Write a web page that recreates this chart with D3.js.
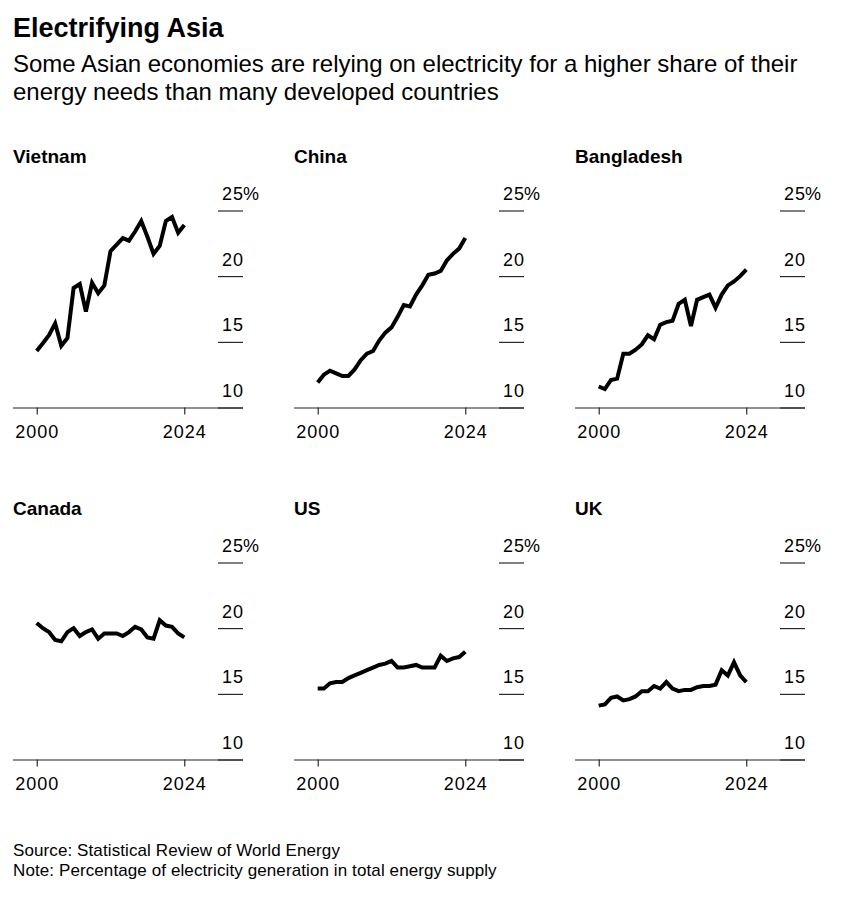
<!DOCTYPE html>
<html>
<head>
<meta charset="utf-8">
<script src="https://cdn.jsdelivr.net/npm/d3@7"></script>
<style>
  body { margin: 0; background: #fff; }
  svg { font-family: "Liberation Sans", Arial, sans-serif; }
  .axis text { font-size: 18px; fill: #000; letter-spacing: 1px; }
  .axis line { stroke: #000; }
</style>
</head>
<body>
<div id="chart"></div>
<script>
// chart data
var years = d3.range(2000, 2025);
var countries = ["Vietnam", "China", "Bangladesh", "Canada", "US", "UK"];
var vietnam = [14.3, 14.9, 15.5, 16.4, 14.7, 15.3, 19.1, 19.4, 17.3, 19.5, 18.7, 19.3, 21.9,
  22.4, 22.9, 22.7, 23.4, 24.2, 23.0, 21.7, 22.3, 24.2, 24.5, 23.3, 23.9];
var china = [11.9, 12.5, 12.8, 12.6, 12.4, 12.4, 12.9, 13.6, 14.1, 14.3, 15.1, 15.7, 16.1,
  16.9, 17.8, 17.7, 18.6, 19.3, 20.1, 20.2, 20.4, 21.2, 21.7, 22.1, 22.9];
var bangladesh = [11.6, 11.4, 12.1, 12.2, 14.1, 14.1, 14.4, 14.8, 15.5, 15.2, 16.3, 16.5, 16.6,
  17.9, 18.2, 16.2, 18.2, 18.4, 18.6, 17.6, 18.6, 19.3, 19.6, 20.0, 20.5];
var canada = [20.4, 20.0, 19.7, 19.1, 19.0, 19.7, 20.0, 19.4, 19.7, 19.9, 19.2, 19.6, 19.6,
  19.6, 19.4, 19.7, 20.1, 19.9, 19.3, 19.2, 20.6, 20.2, 20.1, 19.6, 19.3];
var us = [15.4, 15.4, 15.8, 15.9, 15.9, 16.2, 16.4, 16.6, 16.8, 17.0, 17.2, 17.3, 17.5,
  17.0, 17.0, 17.1, 17.2, 17.0, 17.0, 17.0, 17.9, 17.5, 17.7, 17.8, 18.2];
var uk = [14.1, 14.2, 14.7, 14.8, 14.5, 14.6, 14.8, 15.2, 15.2, 15.6, 15.4, 15.9, 15.4,
  15.2, 15.3, 15.3, 15.5, 15.6, 15.6, 15.7, 16.8, 16.4, 17.4, 16.4, 15.9];
var seriesValues = [vietnam, china, bangladesh, canada, us, uk];
var yTicks = [10, 15, 20, 25];
var xTicks = [2000, 2024];

var svgWidth = 844;
var svgHeight = 898;

var svg = d3.select("#chart")
  .append("svg")
  .attr("width", svgWidth)
  .attr("height", svgHeight);

// headline
svg.append("text")
  .attr("x", 13)
  .attr("y", 37)
  .style("font-size", "27px")
  .style("font-weight", "bold")
  .text("Electrifying Asia");

var subtitle = ["Some Asian economies are relying on electricity for a higher share of their",
  "energy needs than many developed countries"];
svg.selectAll(".subtitle")
  .data(subtitle)
  .enter()
  .append("text")
  .attr("class", "subtitle")
  .attr("x", 13)
  .attr("y", (d, i) => 72 + i * 27.5)
  .style("font-size", "24px")
  .text(d => d);

// panel geometry
var panelW = 230;
var colStep = 281;
var rowStep = 352;
var left0 = 13;
var base0 = 407.5;

var x = d3.scaleLinear()
  .domain([2000, 2024])
  .range([23.7, 171.3]);

var y = d3.scaleLinear()
  .domain([10, 25])
  .range([0, -197]);

var line = d3.line()
  .x((d, i) => x(years[i]))
  .y(d => y(d));

countries.forEach(function(name, k) {
  var col = k % 3;
  var row = Math.floor(k / 3);
  var g = svg.append("g")
    .attr("transform", `translate(${left0 + col * colStep}, ${base0 + row * rowStep})`);

  g.append("text")
    .attr("x", 0)
    .attr("y", -245)
    .style("font-size", "19px")
    .style("font-weight", "bold")
    .text(name);

  // y axis: short rules with labels above them
  var yAxis = g.append("g")
    .attr("class", "axis")
    .attr("transform", `translate(${panelW - 25}, 0)`)
    .call(d3.axisRight(y).tickValues(yTicks).tickSize(25).tickFormat(d3.format("d")));
  yAxis.select(".domain").remove();
  yAxis.selectAll(".tick text")
    .attr("x", 26)
    .attr("dy", "-11")
    .attr("text-anchor", "end");
  yAxis.selectAll(".tick")
    .filter(d => d === 25)
    .append("text")
    .attr("x", 25)
    .attr("y", -11)
    .attr("fill", "#000")
    .style("letter-spacing", "0px")
    .text("%");

  // x axis
  var xAxis = g.append("g")
    .attr("class", "axis")
    .call(d3.axisBottom(x).tickValues(xTicks).tickSize(7).tickPadding(11).tickFormat(d3.format("d")));
  xAxis.select(".domain").remove();
  g.append("line")
    .attr("x1", 0)
    .attr("x2", panelW)
    .attr("y1", 0.5)
    .attr("y2", 0.5)
    .attr("stroke", "#222");

  g.append("path")
    .datum(seriesValues[k])
    .attr("fill", "none")
    .attr("stroke", "#000")
    .attr("stroke-width", 4)
    .attr("stroke-linejoin", "miter")
    .attr("d", line);
});

// footer
var notes = ["Source: Statistical Review of World Energy",
  "Note: Percentage of electricity generation in total energy supply"];
svg.selectAll(".note")
  .data(notes)
  .enter()
  .append("text")
  .attr("class", "note")
  .attr("x", 13)
  .attr("y", (d, i) => 856 + i * 20)
  .style("font-size", "17px")
  .style("letter-spacing", "0.1px")
  .text(d => d);
</script>
</body>
</html>
